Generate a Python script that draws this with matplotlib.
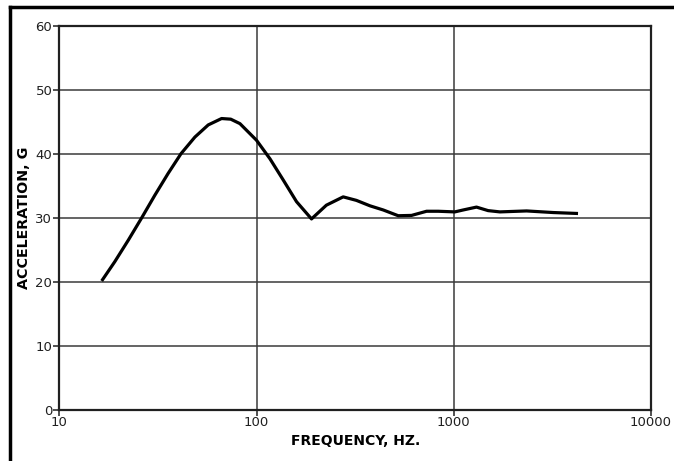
import numpy as np
import matplotlib.pyplot as plt
from matplotlib.lines import Line2D

# values
freq_hz = [16.4, 19.1, 22.4, 26.2, 30.5, 35.6, 41.4, 48.7, 56.9, 66.5, 74, 82.4,
           100, 117, 136.5, 159.5, 190, 226, 275, 321, 376, 439, 523, 611,
           728, 834, 1012, 1116, 1304, 1493, 1713, 2340, 3191, 4266]
accel_g = [20.1, 23.1, 26.5, 30.0, 33.5, 36.9, 40.0, 42.6, 44.5, 45.5, 45.4, 44.7,
           42.1, 39.2, 35.9, 32.5, 29.8, 31.95, 33.25, 32.7, 31.85, 31.2, 30.3, 30.35,
           31.0, 31.0, 30.9, 31.2, 31.65, 31.1, 30.9, 31.05, 30.8, 30.65]

y_ticks = [0, 10, 20, 30, 40, 50, 60]
x_ticks = [10, 100, 1000, 10000]
x_tick_labels = ["10", "100", "1000", "10000"]

plt.rcParams['font.family'] = ['DejaVu Sans']

fig = plt.figure(figsize=(6.74, 4.61), dpi=100)
ax = fig.add_axes([59.3 / 674, 1 - 409.5 / 461, (651 - 59.3) / 674, (409.5 - 25.8) / 461])

ax.plot(freq_hz, accel_g, color="black", linewidth=2.3,
        solid_joinstyle="round", solid_capstyle="butt")

ax.set_xscale("log")
ax.set_xlim(10, 10000)
ax.set_ylim(0, 60)
ax.set_xticks(x_ticks)
ax.set_xticklabels(x_tick_labels)
ax.minorticks_off()
ax.set_yticks(y_ticks)

ax.grid(True, color="#3a3a3a", linewidth=1.1)
ax.set_axisbelow(True)
for side in ["left", "bottom", "top", "right"]:
    ax.spines[side].set_linewidth(1.6)
    ax.spines[side].set_color("#202020")

ax.tick_params(axis="both", direction="out", length=4, width=1.1,
               labelsize=9.5, colors="#202020", pad=1)

ax.set_xlabel("FREQUENCY, HZ.", fontsize=10, fontweight="bold", labelpad=3)
ax.set_ylabel("ACCELERATION, G", fontsize=10.3, fontweight="bold", labelpad=3)

# outer frame (cut off at right and bottom in the original)
fig.add_artist(Line2D([10 / 674, 1], [1 - 7 / 461, 1 - 7 / 461],
                      color="black", linewidth=2.5, transform=fig.transFigure))
fig.add_artist(Line2D([10 / 674, 10 / 674], [0, 1 - 7 / 461],
                      color="black", linewidth=2.5, transform=fig.transFigure))

fig.savefig("out.png", dpi=100)
